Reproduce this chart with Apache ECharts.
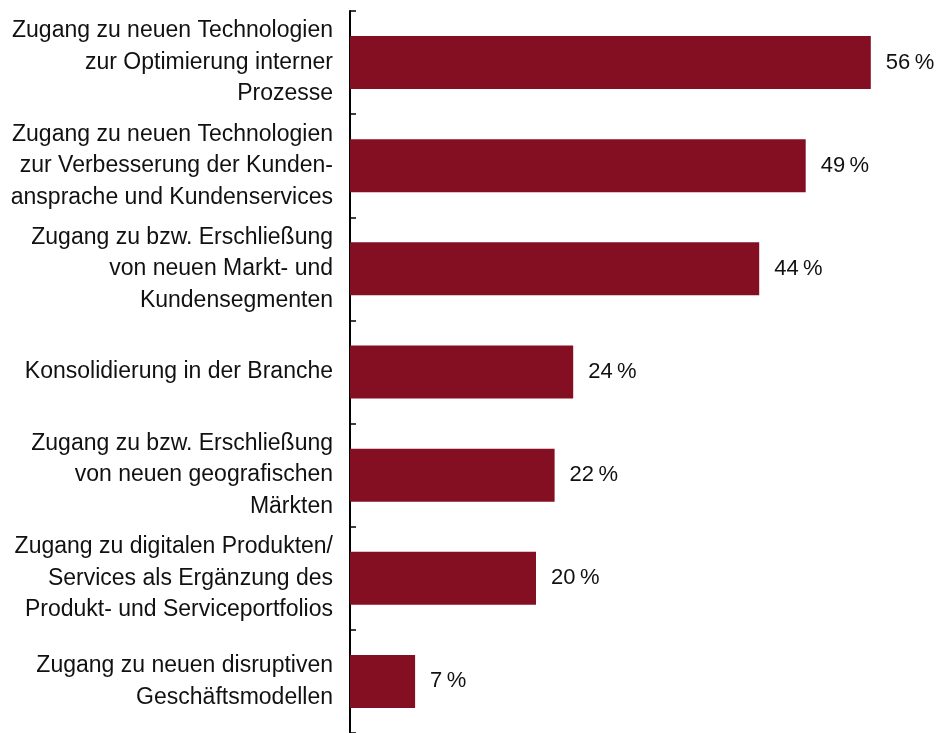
<!DOCTYPE html>
<html>
<head>
<meta charset="utf-8">
<script src="https://cdn.jsdelivr.net/npm/echarts@6/dist/echarts.min.js"></script>
<style>
  html, body { margin: 0; padding: 0; background: #ffffff; }
  #chart { width: 936px; height: 733px; }
</style>
</head>
<body>
<div id="chart"></div>
<script>
// Gründe / Treiber – Anteil der Nennungen in Prozent
const categories = [
  'Zugang zu neuen Technologien\nzur Optimierung interner\nProzesse',
  'Zugang zu neuen Technologien\nzur Verbesserung der Kunden-\nansprache und Kundenservices',
  'Zugang zu bzw. Erschließung\nvon neuen Markt- und\nKundensegmenten',
  'Konsolidierung in der Branche',
  'Zugang zu bzw. Erschließung\nvon neuen geografischen\nMärkten',
  'Zugang zu digitalen Produkten/\nServices als Ergänzung des\nProdukt- und Serviceportfolios',
  'Zugang zu neuen disruptiven\nGeschäftsmodellen'
];
const values = [56, 49, 44, 24, 22, 20, 7];

const barColor = '#840f23';
const textColor = '#111111';
const fontFamily = '"Liberation Sans", Arial, Helvetica, sans-serif';

const chart = echarts.init(document.getElementById('chart'), null, { renderer: 'canvas' });

chart.setOption({
  animation: false,
  grid: { left: 350, top: 11, width: 558, height: 726 },
  xAxis: {
    type: 'value',
    min: 0,
    max: 60,
    show: false
  },
  yAxis: {
    type: 'category',
    data: categories,
    inverse: true,
    axisLine: { show: true, lineStyle: { color: '#000000', width: 2 } },
    axisTick: { show: true, inside: true, length: 6, lineStyle: { color: '#000000', width: 1.5 } },
    axisLabel: {
      color: textColor,
      fontFamily: fontFamily,
      fontSize: 23,
      lineHeight: 31.5,
      align: 'right',
      margin: 17
    },
    splitLine: { show: false }
  },
  series: [{
    type: 'bar',
    data: values,
    barWidth: 53,
    itemStyle: { color: barColor },
    label: {
      show: true,
      position: 'right',
      distance: 15,
      color: textColor,
      fontFamily: fontFamily,
      fontSize: 22,
      formatter: p => p.value + '\u2009%'
    }
  }]
});
</script>
</body>
</html>
